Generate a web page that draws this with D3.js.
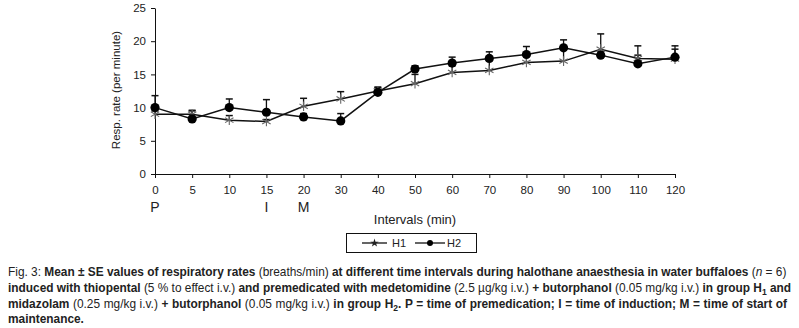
<!DOCTYPE html>
<html>
<head>
<meta charset="utf-8">
<script src="https://cdn.jsdelivr.net/npm/d3@7"></script>
<style>
  body { margin: 0; background: #fff; }
  svg { display: block; font-family: "Liberation Sans", Arial, sans-serif; }
</style>
</head>
<body>
<div id="chart"></div>
<script>
// valeurs
const intervals = ["0", "5", "10", "15", "20", "30", "40", "50", "60", "70", "80", "90", "100", "110", "120"];
const h1Mean = [9.0, 9.0, 8.1, 7.9, 10.2, 11.3, 12.5, 13.6, 15.3, 15.6, 16.8, 17.0, 18.8, 17.4, 17.3];
const h1SE = [0.5, 0.6, 0.7, 0.3, 1.2, 1.1, 0.6, 1.4, 1.0, 1.5, 1.0, 1.8, 2.3, 1.9, 2.0];
const h2Mean = [10.0, 8.3, 10.0, 9.3, 8.6, 8.0, 12.3, 15.8, 16.7, 17.4, 18.0, 19.0, 17.9, 16.6, 17.6];
const h2SE = [1.8, 1.2, 1.3, 1.9, 0.5, 1.1, 0.7, 0.5, 0.9, 1.0, 1.2, 1.2, 0.5, 1.3, 1.2];
const yTicks = [0, 5, 10, 15, 20, 25];
const events = [{ at: "0", label: "P" }, { at: "15", label: "I" }, { at: "20", label: "M" }];

const W = 799, H = 328;
const svg = d3.select("#chart").append("svg")
    .attr("width", W).attr("height", H)
    .attr("viewBox", `0 0 ${W} ${H}`);

const x = d3.scalePoint().domain(intervals).range([155, 675]);
const y = d3.scaleLinear().domain([0, 25]).range([174, 8]);

// axes
const gy = svg.append("g")
    .attr("transform", `translate(${x.range()[0]},0)`)
    .call(d3.axisLeft(y).tickValues(yTicks).tickSize(4).tickSizeOuter(0).tickPadding(5));
const gx = svg.append("g")
    .attr("transform", `translate(0,${y(0)})`)
    .call(d3.axisBottom(x).tickSize(4).tickSizeOuter(0).tickPadding(8));
[gx, gy].forEach(g => {
    g.selectAll("text").attr("font-size", 11.5).attr("fill", "#222").attr("font-family", null);
    g.selectAll("line,path").attr("stroke", "#111");
});

svg.append("text")
    .attr("transform", "translate(120,90) rotate(-90)")
    .attr("text-anchor", "middle")
    .attr("font-size", 11.5).attr("fill", "#222")
    .text("Resp. rate (per minute)");

svg.selectAll(".evt").data(events).join("text")
    .attr("x", d => x(d.at)).attr("y", 212)
    .attr("text-anchor", "middle")
    .attr("font-size", 14).attr("fill", "#222")
    .text(d => d.label);

svg.append("text")
    .attr("x", (x.range()[0] + x.range()[1]) / 2).attr("y", 224)
    .attr("text-anchor", "middle")
    .attr("font-size", 13).attr("fill", "#222")
    .text("Intervals (min)");

// séries
const asterisk = "M0,-4.8L0,4.8M-4.2,-2.4L4.2,2.4M-4.2,2.4L4.2,-2.4";
const series = [
    { mean: h1Mean, se: h1SE, kind: "star" },
    { mean: h2Mean, se: h2SE, kind: "dot" }
];
const line = d3.line().x((d, i) => x(intervals[i])).y(d => y(d));

series.forEach(s => {
    svg.append("path")
        .attr("d", line(s.mean))
        .attr("fill", "none").attr("stroke", "#111").attr("stroke-width", 1.5);
});

series.forEach(s => {
    const g = svg.append("g");
    s.mean.forEach((m, i) => {
        const cx = x(intervals[i]);
        g.append("line").attr("x1", cx).attr("x2", cx)
            .attr("y1", y(m)).attr("y2", y(m + s.se[i]))
            .attr("stroke", "#111").attr("stroke-width", 1.3);
        g.append("line").attr("x1", cx - 3.5).attr("x2", cx + 3.5)
            .attr("y1", y(m + s.se[i])).attr("y2", y(m + s.se[i]))
            .attr("stroke", "#111").attr("stroke-width", 1.5);
    });
});

series.forEach(s => {
    s.mean.forEach((m, i) => {
        if (s.kind === "dot") {
            svg.append("circle").attr("cx", x(intervals[i])).attr("cy", y(m))
                .attr("r", 4.6).attr("fill", "#000");
        } else {
            svg.append("path").attr("d", asterisk)
                .attr("transform", `translate(${x(intervals[i])},${y(m)})`)
                .attr("fill", "none").attr("stroke", "#666").attr("stroke-width", 1.1);
        }
    });
});

// légende
const lg = svg.append("g");
lg.append("rect").attr("x", 346.5).attr("y", 233.5).attr("width", 130).attr("height", 19)
    .attr("fill", "#fff").attr("stroke", "#111");
lg.append("line").attr("x1", 362).attr("x2", 387).attr("y1", 243).attr("y2", 243).attr("stroke", "#111").attr("stroke-width", 1.3);
lg.append("path").attr("d", d3.symbol(d3.symbolStar, 22)()).attr("transform", "translate(374.5,243)").attr("fill", "#222");
lg.append("text").attr("x", 392).attr("y", 247).attr("font-size", 11).attr("fill", "#222").text("H1");
lg.append("line").attr("x1", 415).attr("x2", 445).attr("y1", 243).attr("y2", 243).attr("stroke", "#111").attr("stroke-width", 1.3);
lg.append("circle").attr("cx", 430).attr("cy", 243).attr("r", 3).attr("fill", "#000");
lg.append("text").attr("x", 447).attr("y", 247).attr("font-size", 11).attr("fill", "#222").text("H2");

// légende de la figure : 0 normal, 1 gras, 2 italique, 3 indice gras
const caption = [
    [["Fig.  3: ", 0], ["Mean ± SE values of respiratory rates ", 1], ["(breaths/min) ", 0], ["at different time intervals during halothane anaesthesia in water buffaloes ", 1], ["(", 0], ["n", 2], [" = 6)", 0]],
    [["induced with thiopental ", 1], ["(5 % to effect i.v.) ", 0], ["and premedicated with medetomidine ", 1], ["(2.5 µg/kg i.v.) ", 0], ["+ butorphanol ", 1], ["(0.05 mg/kg i.v.) ", 0], ["in group H", 1], ["1", 3], [" and", 1]],
    [["midazolam ", 1], ["(0.25 mg/kg i.v.) ", 0], ["+ butorphanol ", 1], ["(0.05 mg/kg i.v.) ", 0], ["in group H", 1], ["2", 3], [". P = time of premedication; I = time of induction; M = time of start of", 1]],
    [["maintenance.", 1]]
];
const baselines = [276, 292, 307.5, 323];
const lineW = 779;
const texts = caption.map((parts, li) => {
    const t = svg.append("text").attr("x", 8).attr("y", baselines[li])
        .attr("font-size", 12.5).attr("fill", "#222");
    parts.forEach(([s, k]) => {
        const ts = t.append("tspan").text(s)
            .attr("font-weight", k === 1 || k === 3 ? "bold" : "normal");
        if (k === 2) ts.attr("font-style", "italic");
        if (k === 3) ts.attr("font-size", 9).attr("dy", 3);
        if (k !== 3 && parts.length && t.selectAll("tspan").size() > 1) {
            // remet la ligne de base après un indice
            const prev = parts[t.selectAll("tspan").size() - 2];
            if (prev && prev[1] === 3) ts.attr("dy", -3);
        }
    });
    return t;
});
// taille de police choisie pour que la 1re ligne remplisse la largeur
const fs = 12.5 * lineW / texts[0].node().getComputedTextLength();
texts.forEach(t => t.attr("font-size", fs));
texts.forEach(t => t.selectAll("tspan").filter(function () { return this.getAttribute("font-size") === "9"; })
    .attr("font-size", fs * 0.72));
// justification des lignes 2 et 3 par l'espacement des mots
[1, 2].forEach(li => {
    const t = texts[li];
    const w = t.node().getComputedTextLength();
    const nSpaces = (t.text().match(/ /g) || []).length;
    t.attr("word-spacing", Math.max(0, (lineW - w) / nSpaces));
});
</script>
</body>
</html>
